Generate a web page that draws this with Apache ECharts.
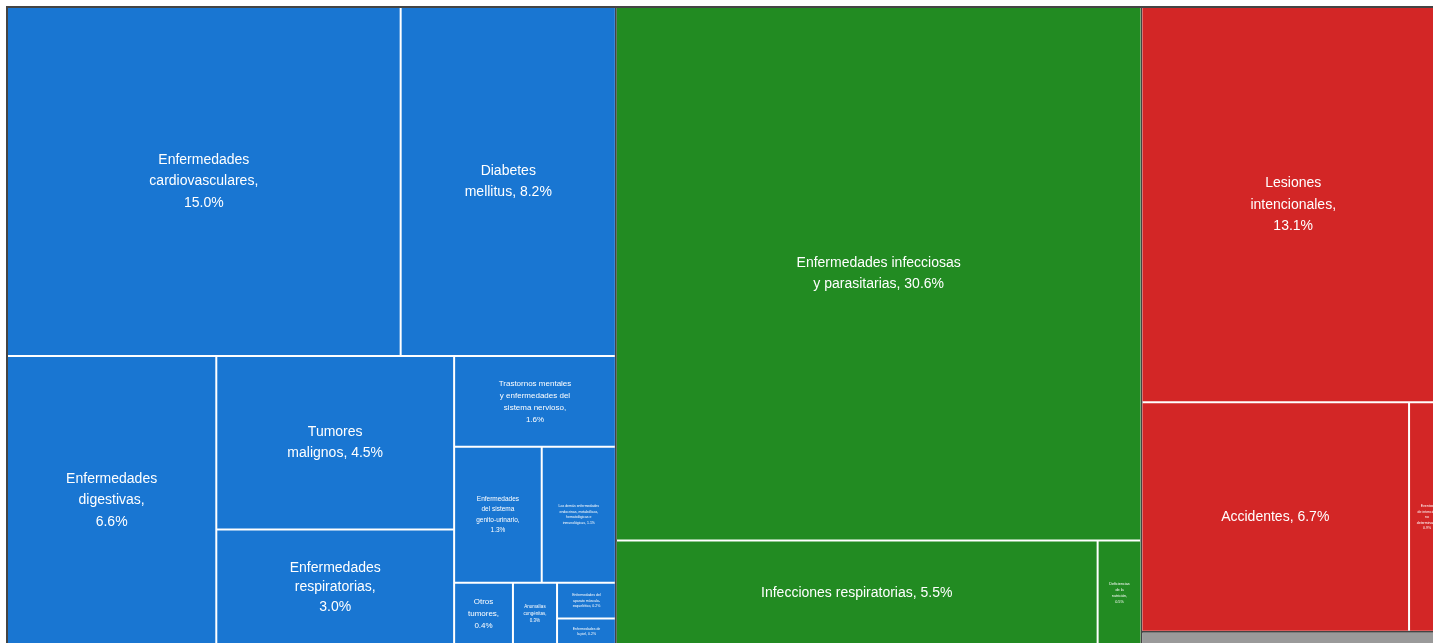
<!DOCTYPE html>
<html>
<head>
<meta charset="utf-8">
<script src="https://cdn.jsdelivr.net/npm/echarts@6/dist/echarts.min.js"></script>
<style>
html,body{margin:0;padding:0;background:#fff;}
#chart{width:1433px;height:643px;}
</style>
</head>
<body>
<div id="chart"></div>
<script>
// ---- data ----
const groupNames = ["Enfermedades no transmisibles", "Enfermedades transmisibles", "Lesiones", "Causas mal definidas"];

const ntNames = ["Enfermedades\ncardiovasculares", "Diabetes\nmellitus", "Enfermedades\ndigestivas", "Tumores\nmalignos",
  "Enfermedades\nrespiratorias", "Trastornos mentales\ny enfermedades del\nsistema nervioso", "Enfermedades\ndel sistema\ngenito-urinario",
  "Las demás enfermedades\nendocrinas, metabólicas,\nhematológicas e\ninmunológicas", "Otros\ntumores", "Anomalías\ncongénitas",
  "Enfermedades del\naparato músculo-\nesquelético", "Enfermedades de\nla piel"];
const ntValues = [15.0, 8.2, 6.6, 4.5, 3.0, 1.6, 1.3, 1.1, 0.4, 0.3, 0.23, 0.17];

const tNames = ["Enfermedades infecciosas\ny parasitarias", "Infecciones respiratorias", "Deficiencias\nde la\nnutrición"];
const tValues = [30.6, 5.5, 0.5];

const lesNames = ["Lesiones\nintencionales", "Accidentes", "Eventos\nde intención\nno\ndeterminada"];
const lesValues = [13.1, 6.7, 0.9];

const malNames = ["Causas mal definidas"];
const malValues = [0.44];

// ---- styles ----
const groupColors = ["#1976D2", "#228B22", "#D32626", "#9A9A9A"];
// per-label: [fontSize, lineHeight, value on new line]
const labelStyle = {
  "Enfermedades\ncardiovasculares": [14, 21.5, true],
  "Diabetes\nmellitus": [14, 21.5, false],
  "Enfermedades\ndigestivas": [14, 21.5, true],
  "Tumores\nmalignos": [14, 21.5, false],
  "Enfermedades\nrespiratorias": [14, 19.5, true],
  "Trastornos mentales\ny enfermedades del\nsistema nervioso": [8, 12, true],
  "Enfermedades\ndel sistema\ngenito-urinario": [6.5, 10.5, true],
  "Las demás enfermedades\nendocrinas, metabólicas,\nhematológicas e\ninmunológicas": [3.5, 5.5, false],
  "Otros\ntumores": [8, 12, true],
  "Anomalías\ncongénitas": [4.5, 7, true],
  "Enfermedades del\naparato músculo-\nesquelético": [3.5, 5.5, false],
  "Enfermedades de\nla piel": [3.5, 5.5, false],
  "Enfermedades infecciosas\ny parasitarias": [14, 21, false],
  "Infecciones respiratorias": [14, 20, false],
  "Deficiencias\nde la\nnutrición": [3.8, 6, true],
  "Lesiones\nintencionales": [14, 21.5, true],
  "Accidentes": [14, 20, false],
  "Eventos\nde intención\nno\ndeterminada": [3.5, 5.5, true],
  "Causas mal definidas": [6, 8, false]
};

function leaves(names, values, color) {
  return names.map((n, i) => {
    const st = labelStyle[n] || [12, 16, false];
    return {
      name: n,
      value: values[i],
      itemStyle: { color: color },
      label: {
        fontSize: st[0], lineHeight: st[1],
        formatter: n + (st[2] ? ",\n" : ", ") + values[i].toFixed(1) + "%"
      }
    };
  });
}

const groups = [
  { names: ntNames, values: ntValues },
  { names: tNames, values: tValues },
  { names: lesNames, values: lesValues }
];
const data = groups.map((g, gi) => ({
  name: groupNames[gi],
  itemStyle: { color: groupColors[gi], borderColor: "#ffffff" },
  children: leaves(g.names, g.values, groupColors[gi])
}));
data.push(leaves(malNames, malValues, groupColors[3])[0]);

const chart = echarts.init(document.getElementById('chart'), null, { renderer: 'canvas' });
chart.setOption({
  animation: false,
  tooltip: { show: false },
  series: [{
    type: 'treemap',
    left: 6, top: 6, width: 1440, height: 640,
    squareRatio: 1.08,
    roam: false,
    nodeClick: false,
    breadcrumb: { show: false },
    visibleMin: 0,
    childrenVisibleMin: 0,
    label: {
      show: true,
      position: 'inside',
      align: 'center',
      verticalAlign: 'middle',
      color: '#ffffff',
      fontFamily: 'Liberation Sans, Arial, sans-serif',
      overflow: 'none'
    },
    upperLabel: { show: false },
    levels: [
      { itemStyle: { borderColor: '#444444', borderWidth: 2, gapWidth: 2 } },
      { itemStyle: { borderColor: '#ffffff', borderWidth: 0, gapWidth: 2 } },
      { itemStyle: { borderWidth: 0, gapWidth: 0 } }
    ],
    data: data
  }]
});
</script>
</body>
</html>
